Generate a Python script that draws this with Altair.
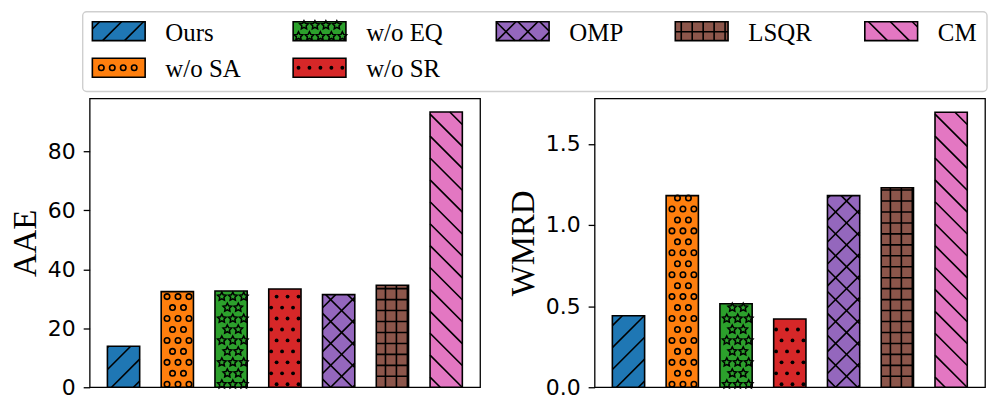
import math
import altair as alt
import pandas as pd

# ---------------- data ----------------
methods = ["Ours", "w/o SA", "w/o EQ", "w/o SR", "OMP", "LSQR", "CM"]
aae_values = [13.9, 32.4, 32.6, 33.3, 31.4, 34.6, 93.3]
wmrd_values = [0.441, 1.181, 0.515, 0.421, 1.181, 1.230, 1.695]
hatches = ["/", "o", "*", ".", "x", "+", "\\"]
colors = ["#1f77b4", "#ff7f0e", "#2ca02c", "#d62728", "#9467bd", "#8c564b", "#e377c2"]
aae_ticks = [0, 20, 40, 60, 80]
wmrd_ticks = [0.0, 0.5, 1.0, 1.5]
aae_ylim = 97.9
wmrd_ylim = 1.78

# ---------------- layout / style ----------------
PW, PH = 392, 290
BAR_W = 0.6
X_MIN, X_MAX = -0.63, 6.63
LINE_GAP = 22.0
DOT_GAP = 11.0
ROW_PHASE = 3.0
COL_PHASE = 0.7
HSP = 25
VSP = 4
TITLE_PAD = 5

# legend chart: its origin is aligned with the left plot area
LW, LH = 898, 82
BOX = (-7, 2, 901, 82)
LEG_COL_X = [2.7, 204.3, 408.3, 588.0, 778.3]
LEG_ROW_Y = [12.0, 48.7]
PATCH_W, PATCH_H = 53.0, 19.0
LABEL_DX = 73.3

SERIF = "Liberation Serif"
SANS = "DejaVu Sans"


def star_path(n=5, inner=0.5):
    pts = []
    for k in range(2 * n):
        r = 1.0 if k % 2 == 0 else inner
        a = -math.pi / 2 + k * math.pi / n
        pts.append((r * math.cos(a), r * math.sin(a)))
    return "M" + "L".join(f"{x:.3f},{y:.3f}" for x, y in pts) + "Z"


STAR = star_path()


def lines_for(kind, w, h, gx, gy):
    segs = []
    G = LINE_GAP
    if kind in ("/", "x"):
        base = gx - gy
        k0 = math.floor((-w - base) / G) - 1
        k1 = math.ceil((h - base) / G) + 1
        for k in range(k0, k1 + 1):
            c = k * G + base
            u0 = max(0.0, -c)
            u1 = min(w, h - c)
            if u1 - u0 > 0.5:
                segs.append((u0, u0 + c, u1, u1 + c))
    if kind in ("\\", "x"):
        base = -gx - gy
        k0 = math.floor((0 - base) / G) - 1
        k1 = math.ceil((w + h - base) / G) + 1
        for k in range(k0, k1 + 1):
            c = k * G + base
            u0 = max(0.0, c - h)
            u1 = min(w, c)
            if u1 - u0 > 0.5:
                segs.append((u0, c - u0, u1, c - u1))
    if kind == "+":
        D = DOT_GAP
        k0 = math.floor(gx / D) - 1
        k1 = math.ceil((gx + w) / D) + 1
        for k in range(k0, k1 + 1):
            u = k * D - gx
            if 0.8 < u < w - 0.8:
                segs.append((u, 0.0, u, h))
        k0 = math.floor(gy / D) - 1
        k1 = math.ceil((gy + h) / D) + 1
        for k in range(k0, k1 + 1):
            t = k * D - gy
            if 0.8 < t < h - 0.8:
                segs.append((0.0, t, w, t))
    return segs


def points_for(kind, w, h, gx, gy):
    pts = []
    if kind not in ("o", ".", "*"):
        return pts
    D = DOT_GAP
    m = 1.5
    r0 = math.floor((gy - ROW_PHASE) / D) - 1
    r1 = math.ceil((gy + h - ROW_PHASE) / D) + 1
    for r in range(r0, r1 + 1):
        t = r * D + ROW_PHASE - gy
        if not (m <= t <= h - m):
            continue
        shift = (r % 2) * D / 2
        k0 = math.floor((gx - COL_PHASE - shift) / D) - 1
        k1 = math.ceil((gx + w - COL_PHASE - shift) / D) + 1
        for k in range(k0, k1 + 1):
            u = k * D + COL_PHASE + shift - gx
            if m <= u <= w - m:
                pts.append((u, t))
    return pts


def point_layers(pts, xenc, yenc):
    layers = []
    specs = {
        "o": dict(shape="circle", size=30, filled=False, stroke="black", strokeWidth=1.6, opacity=1),
        ".": dict(shape="circle", size=15, filled=True, color="black", opacity=1),
        "*": dict(shape=STAR, size=80, filled=False, stroke="black", strokeWidth=1.5, opacity=1),
    }
    for kind, spec in specs.items():
        sub = pts[pts["kind"] == kind]
        if len(sub):
            layers.append(alt.Chart(sub).mark_point(**spec).encode(x=xenc("px"), y=yenc("py")))
    return layers


def panel(values, ylim, ticks, fmt, title):
    xu = PW / (X_MAX - X_MIN)
    yu = PH / ylim
    n = len(methods)
    bars = pd.DataFrame({
        "method": methods,
        "x0": [i - BAR_W / 2 for i in range(n)],
        "x1": [i + BAR_W / 2 for i in range(n)],
        "value": values,
        "base": [0.0] * n,
        "color": colors,
    })
    seg_rows, pt_rows = [], []
    for i, (v, kind) in enumerate(zip(values, hatches)):
        x0 = i - BAR_W / 2
        w = BAR_W * xu
        h = v * yu
        gx = (x0 - X_MIN) * xu
        for ua, ta, ub, tb in lines_for(kind, w, h, gx, 0.0):
            seg_rows.append({"xa": x0 + ua / xu, "ya": ta / yu, "xb": x0 + ub / xu, "yb": tb / yu})
        for u, t in points_for(kind, w, h, gx, 0.0):
            pt_rows.append({"px": x0 + u / xu, "py": t / yu, "kind": kind})
    segs = pd.DataFrame(seg_rows)
    pts = pd.DataFrame(pt_rows)

    xs = alt.Scale(domain=[X_MIN, X_MAX], nice=False, zero=False)
    ys = alt.Scale(domain=[0, ylim], nice=False, zero=False)
    yaxis = alt.Axis(
        title=title, values=ticks, format=fmt, grid=False, domain=False,
        ticks=True, tickColor="black", tickWidth=1.3, tickSize=6.5,
        labelFont=SANS, labelFontSize=22, labelColor="black", labelPadding=8,
        titleFont=SERIF, titleFontSize=33, titleFontWeight="normal",
        titleColor="black", titlePadding=TITLE_PAD,
    )

    def xenc(f):
        return alt.X(f"{f}:Q", scale=xs, axis=None)

    def yenc(f):
        return alt.Y(f"{f}:Q", scale=ys, axis=yaxis)

    fill = alt.Chart(bars).mark_rect(strokeWidth=0).encode(
        x=xenc("x0"), x2=alt.X2("x1"), y=yenc("value"), y2=alt.Y2("base"),
        fill=alt.Fill("color:N", scale=None),
    )
    rules = alt.Chart(segs).mark_rule(color="black", strokeWidth=1.6).encode(
        x=xenc("xa"), x2=alt.X2("xb"), y=yenc("ya"), y2=alt.Y2("yb"),
    )
    outline = alt.Chart(bars).mark_rect(filled=False, color="black", strokeWidth=1.6).encode(
        x=xenc("x0"), x2=alt.X2("x1"), y=yenc("value"), y2=alt.Y2("base"),
    )
    layers = [fill, rules] + point_layers(pts, xenc, yenc) + [outline]
    return alt.layer(*layers).properties(
        width=PW, height=PH,
        view=alt.ViewBackground(stroke="black", strokeWidth=1.3),
    )


def legend_chart():
    rows = []
    for i, m in enumerate(methods):
        col, row = (i // 2, i % 2) if i < 4 else (i - 2, 0)
        rows.append({"label": m, "color": colors[i], "kind": hatches[i],
                     "x0": LEG_COL_X[col], "x1": LEG_COL_X[col] + PATCH_W,
                     "y0": LEG_ROW_Y[row], "y1": LEG_ROW_Y[row] + PATCH_H,
                     "lx": LEG_COL_X[col] + LABEL_DX, "ly": LEG_ROW_Y[row] + PATCH_H})
    items = pd.DataFrame(rows)
    seg_rows, pt_rows = [], []
    for r in rows:
        L, T = r["x0"], r["y0"]
        if r["kind"] == "*":
            gy = ROW_PHASE - 4.5
        elif r["kind"] in ("o", "."):
            gy = ROW_PHASE - PATCH_H / 2
        else:
            gy = -(T + PATCH_H)
        gx = L
        for ua, ta, ub, tb in lines_for(r["kind"], PATCH_W, PATCH_H, gx, gy):
            seg_rows.append({"xa": L + ua, "ya": T + PATCH_H - ta, "xb": L + ub, "yb": T + PATCH_H - tb})
        for u, t in points_for(r["kind"], PATCH_W, PATCH_H, gx, gy):
            pt_rows.append({"px": L + u, "py": T + PATCH_H - t, "kind": r["kind"]})
    segs = pd.DataFrame(seg_rows)
    pts = pd.DataFrame(pt_rows)
    box = pd.DataFrame([{"x0": BOX[0], "y0": BOX[1], "x1": BOX[2], "y1": BOX[3]}])

    xs = alt.Scale(domain=[0, LW], nice=False, zero=False)
    ys = alt.Scale(domain=[0, LH], nice=False, zero=False, reverse=True)

    def xenc(f):
        return alt.X(f"{f}:Q", scale=xs, axis=None)

    def yenc(f):
        return alt.Y(f"{f}:Q", scale=ys, axis=None)

    frame = alt.Chart(box).mark_rect(fill="white", stroke="#cfcfcf", strokeWidth=1.4, cornerRadius=4).encode(
        x=xenc("x0"), x2=alt.X2("x1"), y=yenc("y0"), y2=alt.Y2("y1"))
    patch = alt.Chart(items).mark_rect(strokeWidth=0).encode(
        x=xenc("x0"), x2=alt.X2("x1"), y=yenc("y0"), y2=alt.Y2("y1"),
        fill=alt.Fill("color:N", scale=None))
    rules = alt.Chart(segs).mark_rule(color="black", strokeWidth=1.6).encode(
        x=xenc("xa"), x2=alt.X2("xb"), y=yenc("ya"), y2=alt.Y2("yb"))
    outline = alt.Chart(items).mark_rect(filled=False, color="black", strokeWidth=1.6).encode(
        x=xenc("x0"), x2=alt.X2("x1"), y=yenc("y0"), y2=alt.Y2("y1"))
    text = alt.Chart(items).mark_text(align="left", baseline="alphabetic", font=SERIF,
                                      fontSize=25, color="black").encode(
        x=xenc("lx"), y=yenc("ly"), text="label:N")
    layers = [frame, patch, rules] + point_layers(pts, xenc, yenc) + [outline, text]
    return alt.layer(*layers).properties(
        width=LW, height=LH,
        view=alt.ViewBackground(stroke="transparent"),
    )


left = panel(aae_values, aae_ylim, aae_ticks, "d", "AAE")
right = panel(wmrd_values, wmrd_ylim, wmrd_ticks, ".1f", "WMRD")

chart = alt.vconcat(
    legend_chart(),
    alt.hconcat(left, right, spacing=HSP),
    spacing=VSP,
).properties(padding={"left": 0, "top": 0, "right": 0, "bottom": 0})

chart.save("out.html", embed_options={"renderer": "svg", "actions": False})
